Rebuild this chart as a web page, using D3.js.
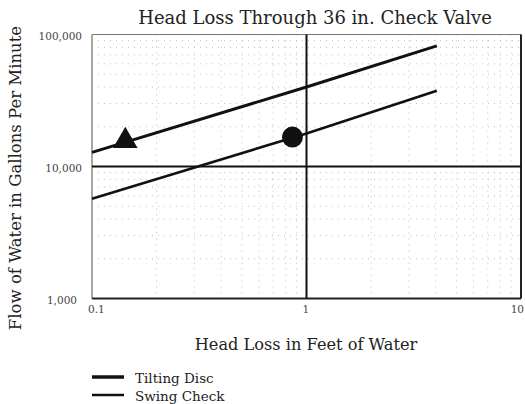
<!DOCTYPE html>
<html>
<head>
<meta charset="utf-8">
<script src="https://cdn.jsdelivr.net/npm/d3@7"></script>
<style>
  body { margin: 0; background: #fff; overflow: hidden; }
  svg { display: block; }
</style>
</head>
<body>
<div id="chart"></div>
<script>
// data
var headLoss = [0.1, 1, 4.05];
var tiltingDisc = [12800, 40000, 82000];
var swingCheck = [5700, 17800, 37500];
var xTicks = [0.1, 1, 10];
var xTickLabels = ["0.1", "1", "10"];
var yTicks = [1000, 10000, 100000];
var yTickLabels = ["1,000", "10,000", "100,000"];
var triangleMark = [0.143, 15600];
var circleMark = [0.86, 16700];
var seriesNames = ["Tilting Disc", "Swing Check"];

var margin = {top: 34.5, right: 4, bottom: 105.5, left: 92};
var width = 525 - margin.left - margin.right;
var height = 404 - margin.top - margin.bottom;

var svg = d3.select("#chart").append("svg")
    .attr("width", 525)
    .attr("height", 404)
    .style("overflow", "hidden");

var g = svg.append("g")
    .attr("transform", "translate(" + margin.left + "," + margin.top + ")");

var x = d3.scaleLog().domain([0.1, 10]).range([0, width]);
var y = d3.scaleLog().domain([1000, 100000]).range([height, 0]);

// minor grid (faint dotted)
var minorX = [], minorY = [];
[0.1, 1].forEach(function(d) {
    for (var k = 2; k <= 9; k++) minorX.push(d * k);
});
[1000, 10000].forEach(function(d) {
    for (var k = 2; k <= 9; k++) minorY.push(d * k);
});

g.selectAll(".gx").data(minorX).enter().append("line")
    .attr("x1", function(d) { return x(d); })
    .attr("x2", function(d) { return x(d); })
    .attr("y1", 0).attr("y2", height)
    .attr("stroke", "#b0b0b0")
    .attr("stroke-width", 0.8)
    .attr("stroke-dasharray", "1,5");

g.selectAll(".gy").data(minorY).enter().append("line")
    .attr("y1", function(d) { return y(d); })
    .attr("y2", function(d) { return y(d); })
    .attr("x1", 0).attr("x2", width)
    .attr("stroke", "#b0b0b0")
    .attr("stroke-width", 0.8)
    .attr("stroke-dasharray", "1,5");

// frame
g.append("line").attr("x1", 0).attr("x2", width).attr("y1", 0).attr("y2", 0)
    .attr("stroke", "#777").attr("stroke-width", 1);
g.append("line").attr("x1", 0).attr("x2", 0).attr("y1", 0).attr("y2", height)
    .attr("stroke", "#888").attr("stroke-width", 1.5);
g.append("line").attr("x1", width).attr("x2", width).attr("y1", 0).attr("y2", height)
    .attr("stroke", "#222").attr("stroke-width", 2);
g.append("line").attr("x1", 0).attr("x2", width).attr("y1", height).attr("y2", height)
    .attr("stroke", "#222").attr("stroke-width", 2);

// heavy decade lines
g.append("line").attr("x1", x(1)).attr("x2", x(1)).attr("y1", 0).attr("y2", height)
    .attr("stroke", "#111").attr("stroke-width", 2);
g.append("line").attr("x1", 0).attr("x2", width).attr("y1", y(10000)).attr("y2", y(10000))
    .attr("stroke", "#111").attr("stroke-width", 2);

// tick labels
g.selectAll(".ytl").data(yTicks).enter().append("text")
    .attr("x", function(d) { return d === 1000 ? -15 : -10; })
    .attr("y", function(d) { return y(d) + 5; })
    .attr("text-anchor", "end")
    .style("font-family", "'DejaVu Serif', serif")
    .style("font-size", "10.5px")
    .attr("fill", "#444")
    .text(function(d, i) { return yTickLabels[i]; });

g.selectAll(".xtl").data(xTicks).enter().append("text")
    .attr("x", function(d, i) { return i === 2 ? x(d) + 3 : x(d) - 4; })
    .attr("y", height + 14)
    .attr("text-anchor", function(d, i) { return i === 2 ? "end" : "start"; })
    .style("font-family", "'DejaVu Serif', serif")
    .style("font-size", "10.5px")
    .attr("fill", "#444")
    .text(function(d, i) { return xTickLabels[i]; });

// series lines
var line = d3.line()
    .x(function(d) { return x(d[0]); })
    .y(function(d) { return y(d[1]); });

g.append("path")
    .datum(d3.zip(headLoss, tiltingDisc))
    .attr("d", line)
    .attr("fill", "none")
    .attr("stroke", "#111")
    .attr("stroke-width", 3);

g.append("path")
    .datum(d3.zip(headLoss, swingCheck))
    .attr("d", line)
    .attr("fill", "none")
    .attr("stroke", "#111")
    .attr("stroke-width", 2.6);

// markers
g.append("path")
    .attr("d", d3.symbol().type(d3.symbolTriangle).size(260)())
    .attr("transform", "translate(" + x(triangleMark[0]) + "," + y(triangleMark[1]) + ")")
    .attr("fill", "#111");

g.append("circle")
    .attr("cx", x(circleMark[0]))
    .attr("cy", y(circleMark[1]))
    .attr("r", 10.5)
    .attr("fill", "#111");

// titles
svg.append("text")
    .attr("x", 315)
    .attr("y", 24)
    .attr("text-anchor", "middle")
    .style("font-family", "'DejaVu Serif', serif")
    .style("font-size", "18px")
    .attr("fill", "#222")
    .text("Head Loss Through 36 in. Check Valve");

svg.append("text")
    .attr("x", 306)
    .attr("y", 350)
    .attr("text-anchor", "middle")
    .style("font-family", "'DejaVu Serif', serif")
    .style("font-size", "16.2px")
    .attr("fill", "#222")
    .text("Head Loss in Feet of Water");

svg.append("text")
    .attr("transform", "translate(21,178) rotate(-90)")
    .attr("text-anchor", "middle")
    .style("font-family", "'DejaVu Serif', serif")
    .style("font-size", "16.5px")
    .attr("fill", "#222")
    .text("Flow of Water in Gallons Per Minute");

// legend
var legend = svg.append("g").attr("transform", "translate(92,377)");
legend.selectAll("line").data(seriesNames).enter().append("line")
    .attr("x1", 0).attr("x2", 32)
    .attr("y1", function(d, i) { return i * 18; })
    .attr("y2", function(d, i) { return i * 18; })
    .attr("stroke", "#111")
    .attr("stroke-width", function(d, i) { return i === 0 ? 3.5 : 2.5; });
legend.selectAll("text").data(seriesNames).enter().append("text")
    .attr("x", 43)
    .attr("y", function(d, i) { return i * 18 + 6; })
    .style("font-family", "'DejaVu Serif', serif")
    .style("font-size", "13.5px")
    .attr("fill", "#222")
    .text(function(d) { return d; });
</script>
</body>
</html>
